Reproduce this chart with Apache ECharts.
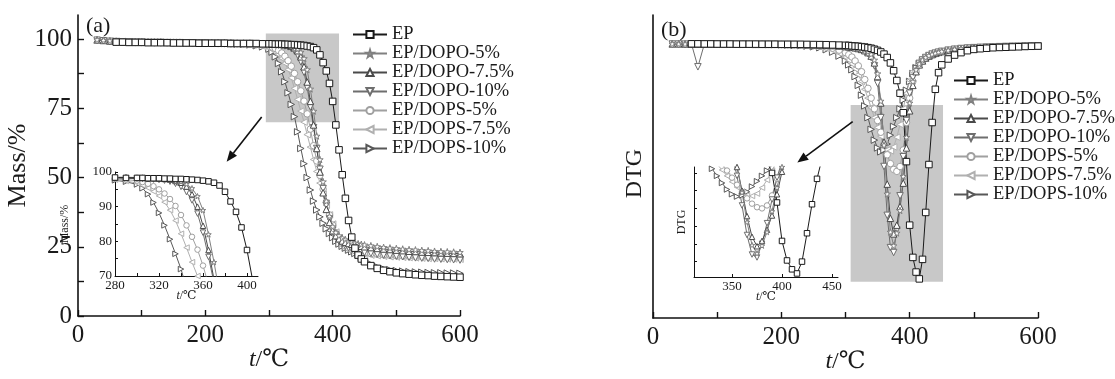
<!DOCTYPE html>
<html><head><meta charset="utf-8">
<script src="https://cdn.jsdelivr.net/npm/echarts@6/dist/echarts.min.js"></script>
<style>html,body{margin:0;padding:0;background:#fff;}#c{width:1115px;height:379px;}</style>
</head><body><div id="c"></div>
<script>
// ---------- data ----------
const names = ['EP','EP/DOPO-5%','EP/DOPO-7.5%','EP/DOPO-10%','EP/DOPS-5%','EP/DOPS-7.5%','EP/DOPS-10%'];
const temps = [30,40,50,60,70,80,90,100,110,120,130,140,150,160,170,180,190,200,210,220,230,240,250,260,270,280,290,
  300,305,310,315,320,325,330,335,340,345,350,355,360,365,370,375,380,385,390,395,400,405,410,415,420,425,430,435,440,445,450,
  460,470,480,490,500,510,520,530,540,550,560,570,580,590,600];
// TGA, mass %
const tgaEP = [null,null,null,98.9,98.9,98.8,98.8,98.8,98.7,98.7,98.7,98.7,98.6,98.6,98.6,98.6,98.5,98.5,98.5,98.5,98.5,98.4,98.4,98.4,98.4,98.4,98.3,
  98.3,98.3,98.2,98.2,98.2,98.1,98.1,98.0,98.0,97.9,97.8,97.7,97.5,97.3,96.9,96.1,94.3,91.5,88.5,84.0,77.5,69.0,60.0,51.0,42.5,34.5,28.5,24.5,22.0,20.6,19.6,
  18.2,17.2,16.5,16.0,15.6,15.3,15.1,14.9,14.7,14.6,14.4,14.3,14.2,14.1,14.0];
const tgaDOPO5 = [99.8,99.6,99.4,99.3,99.2,99.2,99.1,99.1,99.0,99.0,99.0,98.9,98.9,98.9,98.8,98.8,98.8,98.8,98.7,98.7,98.7,98.7,98.6,98.6,98.6,98.5,98.5,
  98.4,98.4,98.3,98.3,98.2,98.1,97.9,97.6,97.2,96.5,95.3,93.0,89.0,82.0,74.0,65.0,56.5,48.5,41.5,36.0,32.3,30.2,29.0,28.2,27.6,27.1,26.7,26.4,26.1,25.9,25.7,
  25.4,25.1,24.8,24.6,24.4,24.2,24.0,23.9,23.7,23.6,23.4,23.3,23.2,23.1,23.0];
const tgaDOPO75 = [99.7,99.5,99.3,99.2,99.1,99.1,99.0,99.0,98.9,98.9,98.9,98.8,98.8,98.8,98.7,98.7,98.7,98.7,98.6,98.6,98.6,98.6,98.5,98.5,98.5,98.4,98.4,
  98.3,98.3,98.2,98.2,98.1,98.0,97.8,97.4,96.9,95.8,93.6,90.0,84.5,77.5,69.0,60.5,52.0,44.5,38.5,33.8,30.8,29.0,27.9,27.1,26.6,26.2,25.9,25.6,25.4,25.2,25.0,
  24.7,24.4,24.2,24.0,23.8,23.6,23.4,23.3,23.1,23.0,22.9,22.8,22.7,22.6,22.5];
const tgaDOPO10 = [99.6,99.4,99.2,99.1,99.0,99.0,98.9,98.9,98.8,98.8,98.8,98.7,98.7,98.7,98.6,98.6,98.6,98.6,98.5,98.5,98.5,98.5,98.4,98.4,98.4,98.3,98.2,
  98.1,98.0,97.9,97.8,97.7,97.5,97.2,96.6,95.7,94.2,91.8,88.0,82.5,75.5,68.0,60.5,53.0,46.0,40.0,35.0,31.0,28.6,27.0,26.0,25.2,24.6,24.1,23.7,23.4,23.1,22.9,
  22.6,22.3,22.0,21.8,21.6,21.4,21.2,21.0,20.9,20.8,20.6,20.5,20.4,20.3,20.2];
const tgaDOPS5 = [null,null,null,99.0,98.9,98.9,98.8,98.8,98.8,98.7,98.7,98.7,98.6,98.6,98.6,98.5,98.5,98.5,98.5,98.4,98.4,98.3,98.3,98.2,98.1,98.0,97.8,
  97.5,97.1,96.6,95.9,95.0,93.8,92.2,90.2,87.6,84.6,81.3,77.6,73.0,67.5,61.5,56.0,50.8,45.8,41.0,36.5,32.8,29.8,27.7,26.2,25.2,24.5,24.0,23.6,23.3,23.0,22.8,
  22.5,22.3,22.1,21.9,21.8,21.7,21.6,21.5,21.4,21.3,21.2,21.2,21.1,21.1,21.0];
const tgaDOPS75 = [null,null,null,99.1,99.0,99.0,98.9,98.9,98.9,98.8,98.8,98.8,98.7,98.7,98.7,98.6,98.6,98.6,98.5,98.5,98.4,98.4,98.3,98.2,98.0,97.8,97.4,
  96.8,96.2,95.4,94.4,93.1,91.3,89.0,86.0,82.2,78.2,74.0,70.0,65.5,61.0,56.5,52.2,48.0,44.0,40.0,36.5,33.2,30.3,28.2,26.7,25.5,24.6,23.9,23.3,22.9,22.6,22.3,
  22.0,21.8,21.6,21.4,21.3,21.2,21.1,21.0,20.9,20.8,20.8,20.7,20.6,20.6,20.5];
const tgaDOPS10 = [null,null,null,99.2,99.1,99.1,99.0,99.0,98.9,98.9,98.9,98.8,98.8,98.8,98.7,98.7,98.6,98.6,98.5,98.5,98.4,98.3,98.2,98.1,97.9,97.6,97.2,
  96.4,95.3,93.6,91.2,88.2,84.6,80.6,76.4,72.0,66.5,60.5,55.0,50.0,45.5,41.5,38.3,35.8,33.5,31.5,29.8,28.3,27.0,26.0,25.2,24.5,23.8,23.2,22.6,22.0,21.2,20.3,
  18.8,17.8,17.1,16.7,16.4,16.2,16.0,15.9,15.8,15.7,15.6,15.6,15.5,15.5,15.4];
// DTG (relative units)
const dtgEP = [null,null,null,0.05,0.05,0.04,0.04,0.03,0.03,0.03,0.02,0.02,0.02,0.02,0.01,0.01,0.01,0,0,0,0,-0.01,-0.02,-0.03,-0.04,-0.06,-0.08,
  -0.1,-0.12,-0.15,-0.18,-0.2,-0.24,-0.28,-0.34,-0.4,-0.5,-0.62,-0.78,-1.0,-1.35,-1.9,-2.7,-3.7,-5.0,-7.0,-12.0,-18.5,-21.8,-23.3,-24.0,-22.0,-17.2,-12.3,-8.0,-4.6,-2.9,-2.1,
  -1.5,-1.1,-0.85,-0.65,-0.52,-0.45,-0.4,-0.35,-0.32,-0.3,-0.27,-0.25,-0.22,-0.2,-0.18];
const dtgDOPO5 = [0.05,0.04,0.04,0.03,0.03,0.03,0.02,0.02,0.02,0.02,0.01,0.01,0.01,0.01,0,0,0,0,0,-0.01,-0.02,-0.03,-0.04,-0.06,-0.08,-0.11,-0.15,
  -0.2,-0.23,-0.27,-0.32,-0.38,-0.46,-0.58,-0.75,-1.0,-1.6,-3.0,-5.8,-10.3,-15.3,-19.2,-20.6,-19.3,-17.0,-13.5,-9.5,-6.0,-3.8,-2.6,-2.0,-1.6,-1.35,-1.15,-1.0,-0.9,-0.8,-0.72,
  -0.6,-0.5,-0.44,-0.4,-0.36,-0.33,-0.3,-0.28,-0.26,-0.24,-0.22,-0.2,-0.18,-0.17,-0.16];
const dtgDOPO75 = [0.04,0.04,0.03,0.03,0.03,0.02,0.02,0.02,0.02,0.01,0.01,0.01,0.01,0,0,0,0,0,-0.01,-0.01,-0.02,-0.03,-0.05,-0.07,-0.1,-0.13,-0.17,
  -0.22,-0.26,-0.3,-0.36,-0.43,-0.52,-0.65,-0.85,-1.2,-1.9,-3.3,-6.0,-10.0,-14.3,-17.8,-19.4,-18.5,-16.6,-14.2,-10.6,-6.8,-4.2,-2.8,-2.1,-1.7,-1.4,-1.2,-1.05,-0.92,-0.82,-0.74,
  -0.62,-0.52,-0.45,-0.4,-0.36,-0.33,-0.3,-0.28,-0.26,-0.24,-0.22,-0.2,-0.19,-0.18,-0.17];
const dtgDOPO10 = [0.03,0.03,0.02,0.02,-2.3,0.02,0.02,0.02,0.01,0.01,0.01,0.01,0,0,0,0,0,-0.01,-0.01,-0.02,-0.03,-0.04,-0.06,-0.08,-0.11,-0.15,-0.2,
  -0.26,-0.3,-0.35,-0.41,-0.48,-0.58,-0.72,-0.95,-1.35,-2.2,-4.0,-7.5,-12.5,-17.5,-20.8,-21.3,-19.0,-15.5,-11.5,-7.8,-5.0,-3.4,-2.5,-1.95,-1.6,-1.35,-1.15,-1.0,-0.9,-0.8,-0.72,
  -0.6,-0.5,-0.43,-0.38,-0.34,-0.31,-0.28,-0.26,-0.24,-0.22,-0.2,-0.19,-0.18,-0.17,-0.16];
const dtgDOPS5 = [null,null,null,0.03,0.03,0.03,0.02,0.02,0.02,0.02,0.01,0.01,0.01,0,0,0,-0.01,-0.02,-0.03,-0.05,-0.07,-0.1,-0.14,-0.2,-0.28,-0.4,-0.6,
  -0.85,-1.05,-1.3,-1.7,-2.2,-2.8,-3.6,-4.5,-5.5,-6.6,-7.8,-9.0,-10.2,-11.3,-12.2,-12.8,-13.0,-12.5,-10.8,-8.0,-5.5,-3.8,-2.8,-2.1,-1.7,-1.4,-1.2,-1.05,-0.92,-0.82,-0.74,
  -0.62,-0.52,-0.45,-0.4,-0.36,-0.33,-0.3,-0.28,-0.26,-0.24,-0.22,-0.21,-0.2,-0.19,-0.18];
const dtgDOPS75 = [null,null,null,0.03,0.03,0.02,0.02,0.02,0.02,0.01,0.01,0.01,0,0,0,-0.01,-0.02,-0.03,-0.05,-0.07,-0.1,-0.14,-0.2,-0.28,-0.4,-0.6,-0.9,
  -1.3,-1.6,-2.0,-2.5,-3.1,-3.8,-4.6,-5.5,-6.5,-7.5,-8.5,-9.4,-10.2,-10.8,-10.9,-10.5,-9.5,-8.2,-6.6,-5.0,-3.7,-2.8,-2.2,-1.8,-1.5,-1.3,-1.1,-1.0,-0.9,-0.8,-0.72,
  -0.6,-0.5,-0.44,-0.39,-0.35,-0.32,-0.29,-0.27,-0.25,-0.23,-0.21,-0.2,-0.19,-0.18,-0.17];
const dtgDOPS10 = [null,null,null,0.03,0.03,0.02,0.02,0.02,0.01,0.01,0.01,0,0,0,-0.01,-0.02,-0.03,-0.05,-0.07,-0.1,-0.13,-0.18,-0.25,-0.35,-0.55,-0.8,-1.2,
  -1.7,-2.1,-2.6,-3.3,-4.2,-5.2,-6.3,-7.5,-8.7,-9.8,-10.6,-11.0,-10.8,-10.2,-9.3,-8.4,-7.5,-6.6,-5.7,-4.7,-3.8,-3.0,-2.4,-2.0,-1.7,-1.5,-1.3,-1.2,-1.1,-1.0,-0.9,
  -0.75,-0.62,-0.53,-0.46,-0.4,-0.36,-0.32,-0.29,-0.27,-0.25,-0.23,-0.21,-0.2,-0.19,-0.18];
// axis ticks / labels
const mainXTicks = [0,100,200,300,400,500,600];
const mainXLabels = [0,200,400,600];
const massTicks = [0,12.5,25,37.5,50,62.5,75,87.5,100];
const massLabels = [0,25,50,75,100];
const insetATicks = [280,300,320,340,360,380,400];
const insetALabels = [280,320,360,400];
const insetAYTicks = [70,75,80,85,90,95,100];
const insetAYLabels = [70,80,90,100];
const insetBLabels = [350,400,450];
const insetBYTicks = [-22,-19,-16,-13,-10,-7];
// zoom boxes [x0, y0, x1, y1] and arrows [xFrom, yFrom, xTo, yTo] in data units
const zoomBoxA = [295, 102, 410, 70];
const zoomBoxB = [308, -6.2, 452, -24.3];
const arrowA = [288.5, 71.9, 233.5, 55.7];
const arrowB = [311.2, -7.9, 224.9, -12.1];

// ---------- styling ----------
const FONT = '"Liberation Serif", "DejaVu Serif", serif';
const TXT = '#1a1a1a';
const colors = ['#1a1a1a','#808080','#4a4a4a','#6e6e6e','#a0a0a0','#b0b0b0','#585858'];
const STAR = 'path://M50,0 L61,35 L98,35 L68,57 L79,91 L50,70 L21,91 L32,57 L2,35 L39,35 Z';
const symbols = ['rect', STAR, 'triangle', 'triangle', 'circle', 'triangle', 'triangle'];
const rotates = [0, 0, 0, 180, 0, 90, -90];
const tga = [tgaEP, tgaDOPO5, tgaDOPO75, tgaDOPO10, tgaDOPS5, tgaDOPS75, tgaDOPS10];
const dtg = [dtgEP, dtgDOPO5, dtgDOPO75, dtgDOPO10, dtgDOPS5, dtgDOPS75, dtgDOPS10];

function pts(arr) { return temps.map((t, i) => [t, arr[i]]).filter(p => p[1] !== null); }
function lineSeries(k, arr, ax, size) {
  return {
    type: 'line', name: names[k], xAxisIndex: ax, yAxisIndex: ax, data: pts(arr),
    symbol: symbols[k], symbolRotate: rotates[k], symbolSize: size, z: 3,
    lineStyle: { color: colors[k], width: 1 },
    itemStyle: { color: '#fff', borderColor: colors[k], borderWidth: 1 },
    color: colors[k], animation: false, silent: true, clip: true
  };
}
function boxSeries(ax, box) {
  return { type: 'custom', xAxisIndex: ax, yAxisIndex: ax, z: 1, silent: true, animation: false,
    data: [box], encode: { x: [0, 2], y: [1, 3] },
    renderItem: (p, api) => {
      const a = api.coord([api.value(0), api.value(1)]);
      const b = api.coord([api.value(2), api.value(3)]);
      return { type: 'rect', shape: { x: a[0], y: a[1], width: b[0] - a[0], height: b[1] - a[1] }, style: { fill: '#c8c8c8' } };
    } };
}
function arrowSeries(ax, arr) {
  return { type: 'custom', xAxisIndex: ax, yAxisIndex: ax, z: 4, silent: true, animation: false,
    data: [arr], encode: { x: [0, 2], y: [1, 3] },
    renderItem: (p, api) => {
      const a = api.coord([api.value(0), api.value(1)]);
      const b = api.coord([api.value(2), api.value(3)]);
      const dx = b[0] - a[0], dy = b[1] - a[1], L = Math.hypot(dx, dy);
      const ux = dx / L, uy = dy / L, hl = 11, hw = 4.5;
      const bx = b[0] - ux * hl, by = b[1] - uy * hl;
      return { type: 'group', children: [
        { type: 'line', shape: { x1: a[0], y1: a[1], x2: bx, y2: by }, style: { stroke: '#111', lineWidth: 1.6 } },
        { type: 'polygon', shape: { points: [[b[0], b[1]], [bx - uy * hw, by + ux * hw], [bx + uy * hw, by - ux * hw]] }, style: { fill: '#111' } }
      ] };
    } };
}
const tName = (size) => ({ fontFamily: FONT, fontSize: size, color: TXT, rich: { i: { fontFamily: FONT, fontSize: size, fontStyle: 'italic', color: TXT } } });

function xAx(grid, min, max, ticks, labels, big, nameGap) {
  return { type: 'value', gridIndex: grid, min: min, max: max,
    axisLine: { onZero: false, lineStyle: { color: '#111', width: big ? 1.6 : 1 } },
    axisTick: { inside: true, length: big ? 6 : 3, customValues: ticks, lineStyle: { color: '#111', width: big ? 1.4 : 1 } },
    axisLabel: { customValues: labels, fontFamily: FONT, fontSize: big ? 25 : 13, color: TXT, margin: big ? 7 : 3 },
    splitLine: { show: false },
    name: '{i|t}/℃', nameLocation: 'middle', nameGap: nameGap, nameMoveOverlap: false, nameTextStyle: tName(big ? 24 : 12) };
}

const series = [];
series.push(boxSeries(0, zoomBoxA), arrowSeries(0, arrowA), boxSeries(2, zoomBoxB), arrowSeries(2, arrowB));
for (let k = 6; k >= 0; k--) {
  series.push(lineSeries(k, tga[k], 0, 6.5));
  series.push(lineSeries(k, tga[k], 1, 5.5));
  series.push(lineSeries(k, dtg[k], 2, 6.5));
  series.push(lineSeries(k, dtg[k], 3, 5.5));
}

const legendBase = { orient: 'vertical', data: names, itemWidth: 34, itemHeight: 9, itemGap: 0, selectedMode: false,
  textStyle: { fontFamily: FONT, fontSize: 18.5, lineHeight: 19, color: TXT } };

const option = {
  backgroundColor: '#fff',
  animation: false,
  title: [
    { text: '(a)', left: 81, top: 10, textStyle: { fontFamily: FONT, fontSize: 22, fontWeight: 'normal', color: TXT } },
    { text: '(b)', left: 656, top: 14, textStyle: { fontFamily: FONT, fontSize: 22, fontWeight: 'normal', color: TXT } }
  ],
  legend: [
    Object.assign({ left: 347, top: 20 }, legendBase),
    Object.assign({ left: 948, top: 66 }, legendBase)
  ],
  grid: [
    { left: 78, top: 15, width: 382, height: 301 },
    { left: 115, top: 172, width: 143, height: 104 },
    { left: 653, top: 15, width: 385, height: 306 },
    { left: 694, top: 167, width: 144, height: 110 }
  ],
  xAxis: [
    xAx(0, 0, 600, mainXTicks, mainXLabels, true, 32),
    xAx(1, 280, 410, insetATicks, insetALabels, false, 14),
    xAx(2, 0, 600, mainXTicks, mainXLabels, true, 32),
    xAx(3, 312, 456, insetBLabels, insetBLabels, false, 14)
  ],
  yAxis: [
    { type: 'value', gridIndex: 0, min: 0, max: 108.7,
      axisLine: { show: true, onZero: false, lineStyle: { color: '#111', width: 1.6 } },
      axisTick: { show: true, inside: true, length: 6, customValues: massTicks, lineStyle: { color: '#111', width: 1.4 } },
      axisLabel: { customValues: massLabels, fontFamily: FONT, fontSize: 25, color: TXT, margin: 6 },
      splitLine: { show: false },
      name: 'Mass/%', nameLocation: 'middle', nameGap: 47, nameMoveOverlap: false, nameTextStyle: { fontFamily: FONT, fontSize: 26, color: TXT } },
    { type: 'value', gridIndex: 1, min: 70, max: 100,
      axisLine: { show: true, onZero: false, lineStyle: { color: '#111', width: 1 } },
      axisTick: { show: true, inside: true, length: 3, customValues: insetAYTicks, lineStyle: { color: '#111' } },
      axisLabel: { customValues: insetAYLabels, fontFamily: FONT, fontSize: 13, color: TXT, margin: 3 },
      splitLine: { show: false },
      name: 'Mass/%', nameLocation: 'middle', nameGap: 44, nameRotate: 90, nameMoveOverlap: false,
      nameTextStyle: { fontFamily: FONT, fontSize: 12, color: TXT } },
    { type: 'value', gridIndex: 2, min: -28, max: 3,
      axisLine: { show: true, onZero: false, lineStyle: { color: '#111', width: 1.6 } },
      axisTick: { show: false }, axisLabel: { show: false }, splitLine: { show: false },
      name: 'DTG', nameLocation: 'middle', nameGap: 6, nameMoveOverlap: false,
      nameTextStyle: { fontFamily: FONT, fontSize: 24, color: TXT, padding: [0, 14, 0, 0] } },
    { type: 'value', gridIndex: 3, min: -24.6, max: -6,
      axisLine: { show: true, onZero: false, lineStyle: { color: '#111', width: 1 } },
      axisTick: { show: true, inside: true, length: 3, customValues: insetBYTicks, lineStyle: { color: '#111' } },
      axisLabel: { show: false }, splitLine: { show: false },
      name: 'DTG', nameLocation: 'middle', nameGap: 6, nameMoveOverlap: false, nameTextStyle: { fontFamily: FONT, fontSize: 12, color: TXT } }
  ],
  series: series
};
const chart = echarts.init(document.getElementById('c'), null, { renderer: 'canvas' });
chart.setOption(option);
</script></body></html>
